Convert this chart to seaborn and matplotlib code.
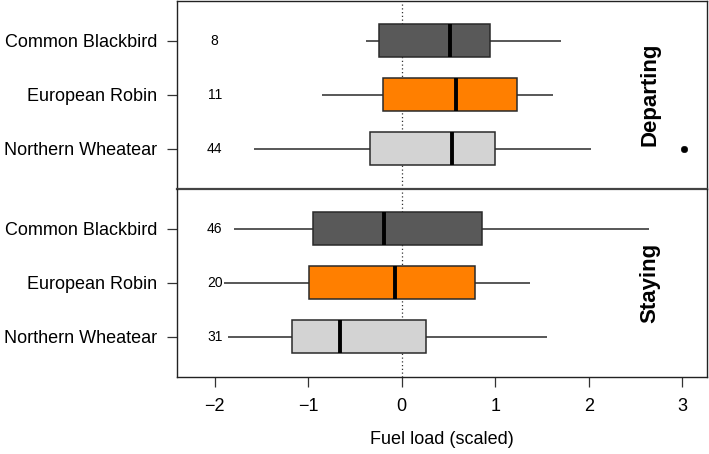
import numpy as np
import pandas as pd
import matplotlib
matplotlib.use("Agg")
import matplotlib.pyplot as plt
import seaborn as sns

# ---- data (five-number summaries: min, Q1, median, Q3, max) ----
species = ["Common Blackbird", "European Robin", "Northern Wheatear"]
colors = ["#595959", "#FF7F00", "#D3D3D3"]

dep_blackbird = [-0.38, -0.24, 0.52, 0.94, 1.70]
dep_robin = [-0.85, -0.20, 0.58, 1.23, 1.62]
dep_wheatear = [-1.58, -0.34, 0.54, 1.00, 2.02]
dep_outlier_species = ["Northern Wheatear"]
dep_outlier_values = [3.02]
dep_counts = [8, 11, 44]

stay_blackbird = [-1.79, -0.95, -0.19, 0.86, 2.64]
stay_robin = [-1.90, -0.99, -0.07, 0.78, 1.37]
stay_wheatear = [-1.86, -1.17, -0.66, 0.26, 1.55]
stay_counts = [46, 20, 31]

panel_labels = ["Departing", "Staying"]
x_ticks = [-2, -1, 0, 1, 2, 3]
x_label = "Fuel load (scaled)"


def long_df(groups):
    rows = []
    for sp, vals in zip(species, groups):
        for v in vals:
            rows.append({"species": sp, "value": v})
    return pd.DataFrame(rows)


dep_df = long_df([dep_blackbird, dep_robin, dep_wheatear])
stay_df = long_df([stay_blackbird, stay_robin, stay_wheatear])
dep_out = pd.DataFrame({"species": dep_outlier_species, "value": dep_outlier_values})

sns.set_theme(style="white")
plt.rcParams["font.family"] = ["Liberation Sans", "DejaVu Sans"]

fig = plt.figure(figsize=(7.09, 4.54), dpi=100)
left, right = 0.2492, 0.9972
top, mid, bottom = 0.9985, 0.5848, 0.1703
ax1 = fig.add_axes([left, mid, right - left, top - mid])
ax2 = fig.add_axes([left, bottom, right - left, mid - bottom], sharex=ax1)
ax2.patch.set_alpha(0)

palette = dict(zip(species, colors))

for ax, df, counts, lab in [(ax1, dep_df, dep_counts, panel_labels[0]),
                            (ax2, stay_df, stay_counts, panel_labels[1])]:
    ax.axvline(0, ls=(0, (1, 2)), color="#333333", lw=0.9, zorder=0)
    sns.boxplot(data=df, x="value", y="species", hue="species", order=species,
                hue_order=species, palette=palette, orient="h", whis=(0, 100),
                width=0.61, linecolor="#2a2a2a", linewidth=1.1, showcaps=False,
                fliersize=0, saturation=1, legend=False, ax=ax,
                medianprops=dict(color="black", linewidth=2.8),
                whiskerprops=dict(color="#2a2a2a", linewidth=1.1),
                boxprops=dict(zorder=2))
    for i, n in enumerate(counts):
        ax.text(-2, i, str(n), ha="center", va="center", fontsize=10, color="black")
    ax.text(2.655, 1, lab, rotation=90, ha="center", va="center",
            fontsize=16, fontweight="bold", color="black")
    ax.set_ylim(2.74, -0.74)
    ax.set_ylabel("")
    ax.set_xlabel("")
    ax.tick_params(axis="y", left=True, length=7, width=0.9, pad=7,
                   labelsize=13, color="#333333", labelcolor="black")
    for s in ax.spines.values():
        s.set_color("#222222")
        s.set_linewidth(1.0)

sns.scatterplot(data=dep_out, x="value", y="species", ax=ax1, color="black",
                s=22, edgecolor="black", zorder=5, legend=False)
ax1.set_ylim(2.74, -0.74)
ax1.set_ylabel("")
ax1.set_xlabel("")

ax1.set_xlim(-2.406, 3.265)
ax1.set_xticks(x_ticks)
ax1.tick_params(axis="x", bottom=False, labelbottom=False)
ax2.tick_params(axis="x", bottom=True, length=7, width=0.9, pad=8,
                labelsize=13, color="#333333", labelcolor="black")
ax2.set_xticklabels([f"{t}".replace("-", "\u2212") for t in x_ticks])
ax2.set_xlabel(x_label, fontsize=13, labelpad=12, color="black")
ax1.spines["bottom"].set_color("#444444")
ax1.spines["bottom"].set_linewidth(1.6)
ax2.spines["top"].set_visible(False)

fig.savefig("out.png", dpi=100)
